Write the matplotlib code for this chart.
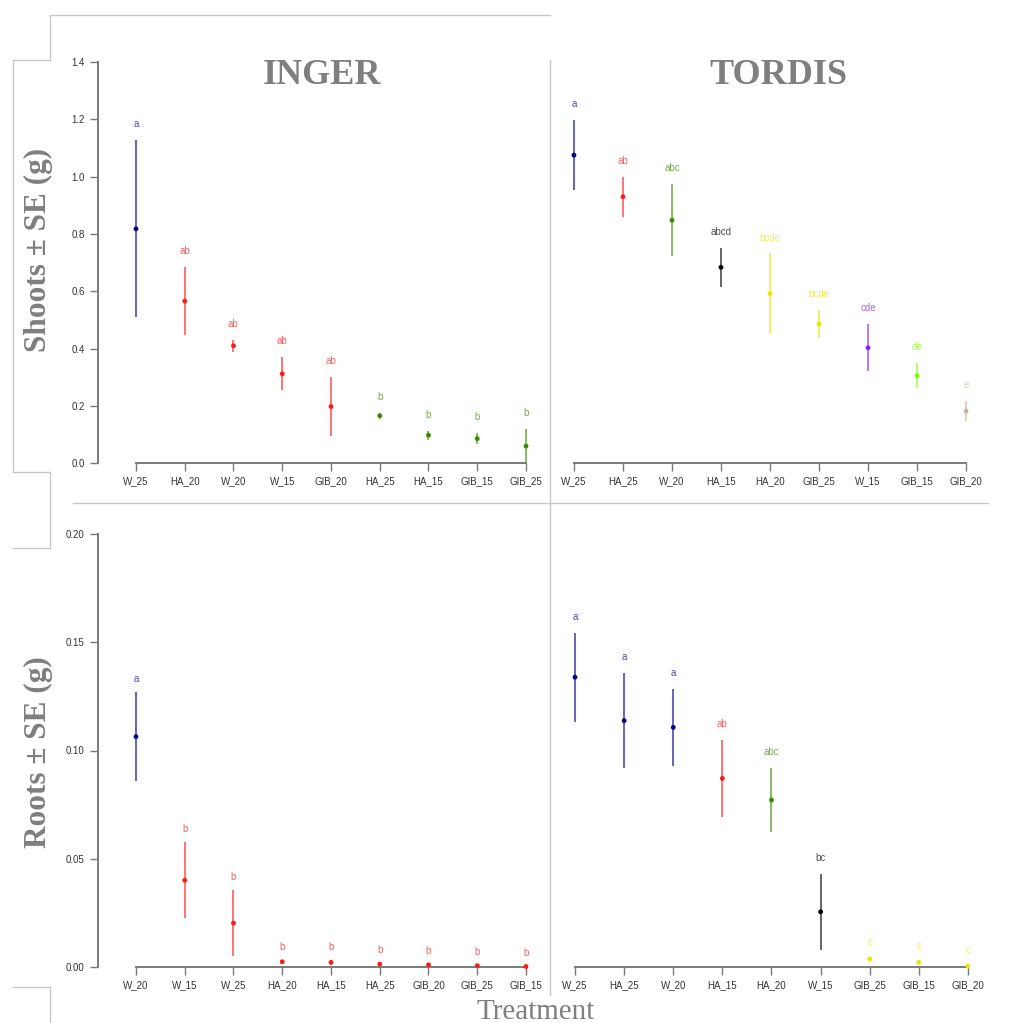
import matplotlib
matplotlib.use("Agg")
import matplotlib.pyplot as plt
from matplotlib.lines import Line2D

# INGER shoots
inger_shoot_trt = ["W_25", "HA_20", "W_20", "W_15", "GIB_20", "HA_25", "HA_15", "GIB_15", "GIB_25"]
inger_shoot_mean = [0.818, 0.566, 0.410, 0.312, 0.198, 0.166, 0.098, 0.086, 0.060]
inger_shoot_se = [0.309, 0.120, 0.020, 0.058, 0.103, 0.011, 0.015, 0.019, 0.060]
inger_shoot_grp = ["a", "ab", "ab", "ab", "ab", "b", "b", "b", "b"]

# TORDIS shoots
tordis_shoot_trt = ["W_25", "HA_25", "W_20", "HA_15", "HA_20", "GIB_25", "W_15", "GIB_15", "GIB_20"]
tordis_shoot_mean = [1.075, 0.930, 0.848, 0.684, 0.592, 0.486, 0.403, 0.306, 0.182]
tordis_shoot_se = [0.122, 0.070, 0.125, 0.068, 0.140, 0.050, 0.082, 0.045, 0.036]
tordis_shoot_grp = ["a", "ab", "abc", "abcd", "bcde", "bcde", "cde", "de", "e"]

# INGER roots
inger_root_trt = ["W_20", "W_15", "W_25", "HA_20", "HA_15", "HA_25", "GIB_20", "GIB_25", "GIB_15"]
inger_root_mean = [0.1064, 0.0400, 0.0202, 0.0023, 0.0020, 0.0012, 0.0009, 0.0005, 0.0001]
inger_root_se = [0.0205, 0.0176, 0.0152, 0.0006, 0.0010, 0.0005, 0.0004, 0.0002, 0.0001]
inger_root_grp = ["a", "b", "b", "b", "b", "b", "b", "b", "b"]

# TORDIS roots
tordis_root_trt = ["W_25", "HA_25", "W_20", "HA_15", "HA_20", "W_15", "GIB_25", "GIB_15", "GIB_20"]
tordis_root_mean = [0.1339, 0.1138, 0.1107, 0.0871, 0.0771, 0.0254, 0.0036, 0.0020, 0.0003]
tordis_root_se = [0.0206, 0.0221, 0.0178, 0.0178, 0.0146, 0.0175, 0.0004, 0.0003, 0.0001]
tordis_root_grp = ["a", "a", "a", "ab", "abc", "bc", "c", "c", "c"]

shoot_ticks = [0.0, 0.2, 0.4, 0.6, 0.8, 1.0, 1.2, 1.4]
root_ticks = [0.00, 0.05, 0.10, 0.15, 0.20]

# colours per letter group
NAVY, RED, GREEN, BLACK = "#00008b", "#ff1a1a", "#3a8a00", "#000000"
YEL, PURP, LGREEN, TAN = "#e8e800", "#9020ee", "#7cfc00", "#c8b49c"
inger_shoot_col = [NAVY, RED, RED, RED, RED, GREEN, GREEN, GREEN, GREEN]
tordis_shoot_col = [NAVY, RED, GREEN, BLACK, YEL, YEL, PURP, LGREEN, TAN]
inger_root_col = [NAVY] + [RED] * 8
tordis_root_col = [NAVY, NAVY, NAVY, RED, GREEN, BLACK, YEL, YEL, YEL]

W, H = 1017, 1023
GREY = "#7f7f7f"
AXGREY = "#7a7a7a"
SERIF = "Liberation Serif"
SANS = "Liberation Sans"


def fx(x):
    return x / W


def fy(y):
    return 1 - y / H


def panel(fig, rect, trt, mean, se, grp, cols, ylim, yticks, xlim, label_off, show_y):
    l, t, r, b = rect
    ax = fig.add_axes([fx(l), fy(b), fx(r) - fx(l), fy(t) - fy(b)])
    x = list(range(1, len(trt) + 1))
    lo = [m - s for m, s in zip(mean, se)]
    hi = [m + s for m, s in zip(mean, se)]
    ax.vlines(x, lo, hi, colors=cols, linewidth=1.3, alpha=0.65, clip_on=False)
    ax.scatter(x, mean, c=cols, s=12, zorder=3, clip_on=False, linewidths=0)
    for xi, h, g, c in zip(x, hi, grp, cols):
        ax.annotate(g, (xi, h), xytext=(0, label_off), textcoords="offset points",
                    ha="center", va="center", fontsize=7, family=SANS,
                    color=c, alpha=0.7, annotation_clip=False)
    ax.set_xlim(*xlim)
    ax.set_ylim(*ylim)
    ax.set_xticks(x)
    ax.set_xticklabels(trt)
    for s in ["top", "right"]:
        ax.spines[s].set_visible(False)
    ax.spines["bottom"].set_bounds(1, len(trt))
    ax.spines["bottom"].set_color(AXGREY)
    ax.spines["bottom"].set_linewidth(1.4)
    if show_y:
        ax.spines["left"].set_bounds(ylim[0], ylim[1])
        ax.spines["left"].set_color(AXGREY)
        ax.spines["left"].set_linewidth(1.4)
        ax.set_yticks(yticks)
        ax.set_yticklabels([f"{v:.1f}" if yticks[-1] > 1 else f"{v:.2f}" for v in yticks])
    else:
        ax.spines["left"].set_visible(False)
        ax.set_yticks([])
    ax.tick_params(axis="both", direction="out", length=5.5, width=1.0, color=AXGREY,
                   labelsize=7, labelcolor="#333333", pad=4)
    for lab in ax.get_xticklabels() + ax.get_yticklabels():
        lab.set_family(SANS)
    ax.patch.set_alpha(0)
    return ax


fig = plt.figure(figsize=(W / 100, H / 100), dpi=100)

panel(fig, (98, 62, 545, 463.3), inger_shoot_trt, inger_shoot_mean, inger_shoot_se,
      inger_shoot_grp, inger_shoot_col, (0, 1.4), shoot_ticks,
      (1 - 38 / 48.75, 9 + 19 / 48.75), 11.5, True)
panel(fig, (550, 62, 1000, 463.3), tordis_shoot_trt, tordis_shoot_mean, tordis_shoot_se,
      tordis_shoot_grp, tordis_shoot_col, (0, 1.4), shoot_ticks,
      (1 - 24 / 49.06, 9 + 34 / 49.06), 11.5, False)
panel(fig, (98, 534.3, 545, 966.7), inger_root_trt, inger_root_mean, inger_root_se,
      inger_root_grp, inger_root_col, (0, 0.20), root_ticks,
      (1 - 38 / 48.75, 9 + 19 / 48.75), 9.5, True)
panel(fig, (550, 534.3, 1000, 966.7), tordis_root_trt, tordis_root_mean, tordis_root_se,
      tordis_root_grp, tordis_root_col, (0, 0.20), root_ticks,
      (1 - 25 / 49.1, 9 + 32 / 49.1), 11.5, False)

# big grey labels
fig.text(fx(322), fy(75), "INGER", family=SERIF, weight="bold", size=26,
         color=GREY, ha="center", va="center")
fig.text(fx(778), fy(75), "TORDIS", family=SERIF, weight="bold", size=26,
         color=GREY, ha="center", va="center")
fig.text(fx(38), fy(250), "Shoots ± SE (g)", family=SERIF, weight="bold", size=22.5,
         color=GREY, ha="center", va="center", rotation=90)
fig.text(fx(38), fy(752), "Roots ± SE (g)", family=SERIF, weight="bold", size=22.5,
         color=GREY, ha="center", va="center", rotation=90)
fig.text(fx(536), fy(1012), "Treatment", family=SERIF, size=21,
         color=GREY, ha="center", va="center")

# light frame lines of the composite
segs = [((50, 15), (550, 15)), ((50, 15), (50, 60)), ((13, 60), (50, 60)),
        ((13, 60), (13, 472)), ((13, 472), (50, 472)), ((50, 472), (50, 548)),
        ((13, 548), (50, 548)), ((13, 987), (50, 987)), ((50, 987), (50, 1023)),
        ((550, 60), (550, 995)), ((73, 503), (988, 503))]
for (x0, y0), (x1, y1) in segs:
    fig.add_artist(Line2D([fx(x0), fx(x1)], [fy(y0), fy(y1)], color="#c8c8c8",
                          linewidth=1.0, transform=fig.transFigure))

fig.savefig("out.png", dpi=100, facecolor="white")
